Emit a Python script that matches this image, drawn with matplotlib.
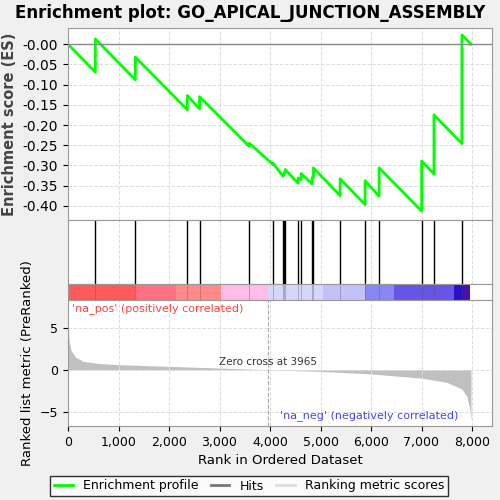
import matplotlib
matplotlib.use("Agg")
import matplotlib.pyplot as plt
import numpy as np

N = 7980
hit_ranks = [541, 1333, 2362, 2605, 3588, 4063, 4260, 4280, 4300, 4557, 4617, 4834, 4860, 5388, 5883, 6160, 7003, 7247, 7800]
es_before = [-0.069, -0.088, -0.162, -0.160, -0.253, -0.298, -0.327, -0.322, -0.318, -0.344, -0.335, -0.346, -0.330, -0.375, -0.397, -0.376, -0.413, -0.321, -0.246]
es_after  = [0.013, -0.032, -0.127, -0.130, -0.245, -0.295, -0.322, -0.318, -0.310, -0.331, -0.320, -0.330, -0.306, -0.333, -0.338, -0.306, -0.289, -0.175, 0.023]

metric_rank = [0, 20, 60, 150, 300, 600, 1000, 2000, 3000, 3965, 5000, 6000, 7000, 7500, 7800, 7900, 7950, 7975, 7980]
metric_val  = [5.5, 3.5, 2.3, 1.5, 1.0, 0.75, 0.6, 0.4, 0.2, 0.0, -0.2, -0.5, -1.0, -1.5, -2.3, -3.2, -4.5, -5.8, -6.0]

bar_edges = [0, 1320, 2140, 3020, 3970, 5050, 5880, 6460, 7650, 7850, 7960]
bar_colors = ["#ff5a5a", "#ff7080", "#ff8a8a", "#ffbce6", "#d6d6fa", "#c4c0f8", "#8888f4", "#6655e6", "#2a10cc", "#4a10a8"]

fig = plt.figure(figsize=(5, 5), dpi=100)
fig.patch.set_facecolor("#f0f0f0")
L = 68/500
def ax_at(top, bot):
    return fig.add_axes([L, 1-bot/500, 424/500, (bot-top)/500])
xlim = (0, 8000 * (404 + 20) / 404)

ax1 = ax_at(28, 220)
xs = [0]; ys = [0.0]
for r, b, a in zip(hit_ranks, es_before, es_after):
    xs += [r, r]; ys += [b, a]
xs.append(N); ys.append(0.0)
ax1.plot(xs, ys, color="#00ff00", lw=2)
ax1.axhline(0, color="#888888", lw=1)
ax1.set_xlim(xlim); ax1.set_ylim(-0.435, 0.04)
ax1.set_yticks(np.arange(-0.40, 0.01, 0.05))
ax1.set_yticklabels([f"{v:.2f}" for v in np.arange(-0.40, 0.01, 0.05)])
ax1.set_xticks(range(0, 8001, 1000)); ax1.set_xticklabels([])
ax1.tick_params(axis='x', length=0)
ax1.grid(True, ls="--", color="#dddddd", lw=0.7)
ax1.set_ylabel("Enrichment score (ES)", fontsize=10.5, fontweight="bold", color="#444444")
fig.text(0.5, 1-13/500, "Enrichment plot: GO_APICAL_JUNCTION_ASSEMBLY", fontsize=12,
         fontweight="bold", ha="center", va="center")

ax2 = ax_at(220, 284)
for r in hit_ranks:
    ax2.axvline(r, color="black", lw=1)
ax2.set_xlim(xlim); ax2.set_ylim(0, 1)
ax2.set_xticks(range(0, 8001, 1000)); ax2.set_yticks([])
ax2.set_xticklabels([]); ax2.tick_params(length=0)
ax2.grid(True, axis='x', ls="--", color="#dddddd", lw=0.7)

ax3 = ax_at(284, 300)
for i, c in enumerate(bar_colors):
    ax3.axvspan(bar_edges[i], bar_edges[i+1], color=c, lw=0)
for r in hit_ranks:
    ax3.axvline(r, color="#555555", lw=0.5, alpha=0.5)
ax3.set_xlim(xlim); ax3.set_ylim(0, 1)
ax3.set_xticks([]); ax3.set_yticks([])

ax4 = ax_at(300, 426)
ax4.fill_between(metric_rank, metric_val, 0, color="#c0c0c0", lw=0)
ax4.set_xlim(xlim); ax4.set_ylim(-6.7, 8.3)
ax4.set_yticks([-5, 0, 5])
ax4.set_xticks(range(0, 8001, 1000))
ax4.set_xticklabels([f"{v:,}" for v in range(0, 8001, 1000)], fontsize=9)
ax4.tick_params(labelsize=9)
ax4.grid(True, ls="--", color="#dddddd", lw=0.7)
ax4.axvline(3965, color="#aaaaaa", ls="--", lw=0.8)
ax4.text(70, 7.0, "'na_pos' (positively correlated)", color="#ff4444", fontsize=8)
ax4.text(3965, 0.6, "Zero cross at 3965", ha="center", fontsize=7.5, color="#333333")
ax4.text(4200, -5.8, "'na_neg' (negatively correlated)", color="#4444ff", fontsize=8)
ax4.set_xlabel("Rank in Ordered Dataset", fontsize=9.5)
ax4.set_ylabel("Ranked list metric (PreRanked)", fontsize=9.5)
for a in (ax1, ax2, ax3, ax4):
    a.set_facecolor("white")
    for s in a.spines.values():
        s.set_color("#999999")

from matplotlib.lines import Line2D
h = [Line2D([], [], color="#00ff00", lw=2), Line2D([], [], color="#777777", lw=2), Line2D([], [], color="#dddddd", lw=2)]
fig.legend(h, ["Enrichment profile", "Hits", "Ranking metric scores"], loc="center",
           bbox_to_anchor=(0.498, 1-486/500), ncol=3, fontsize=9, frameon=True,
           edgecolor="black", fancybox=False, handlelength=1.5, columnspacing=1.0, borderpad=0.3)
fig.savefig("out.png", dpi=100, facecolor=fig.get_facecolor())
